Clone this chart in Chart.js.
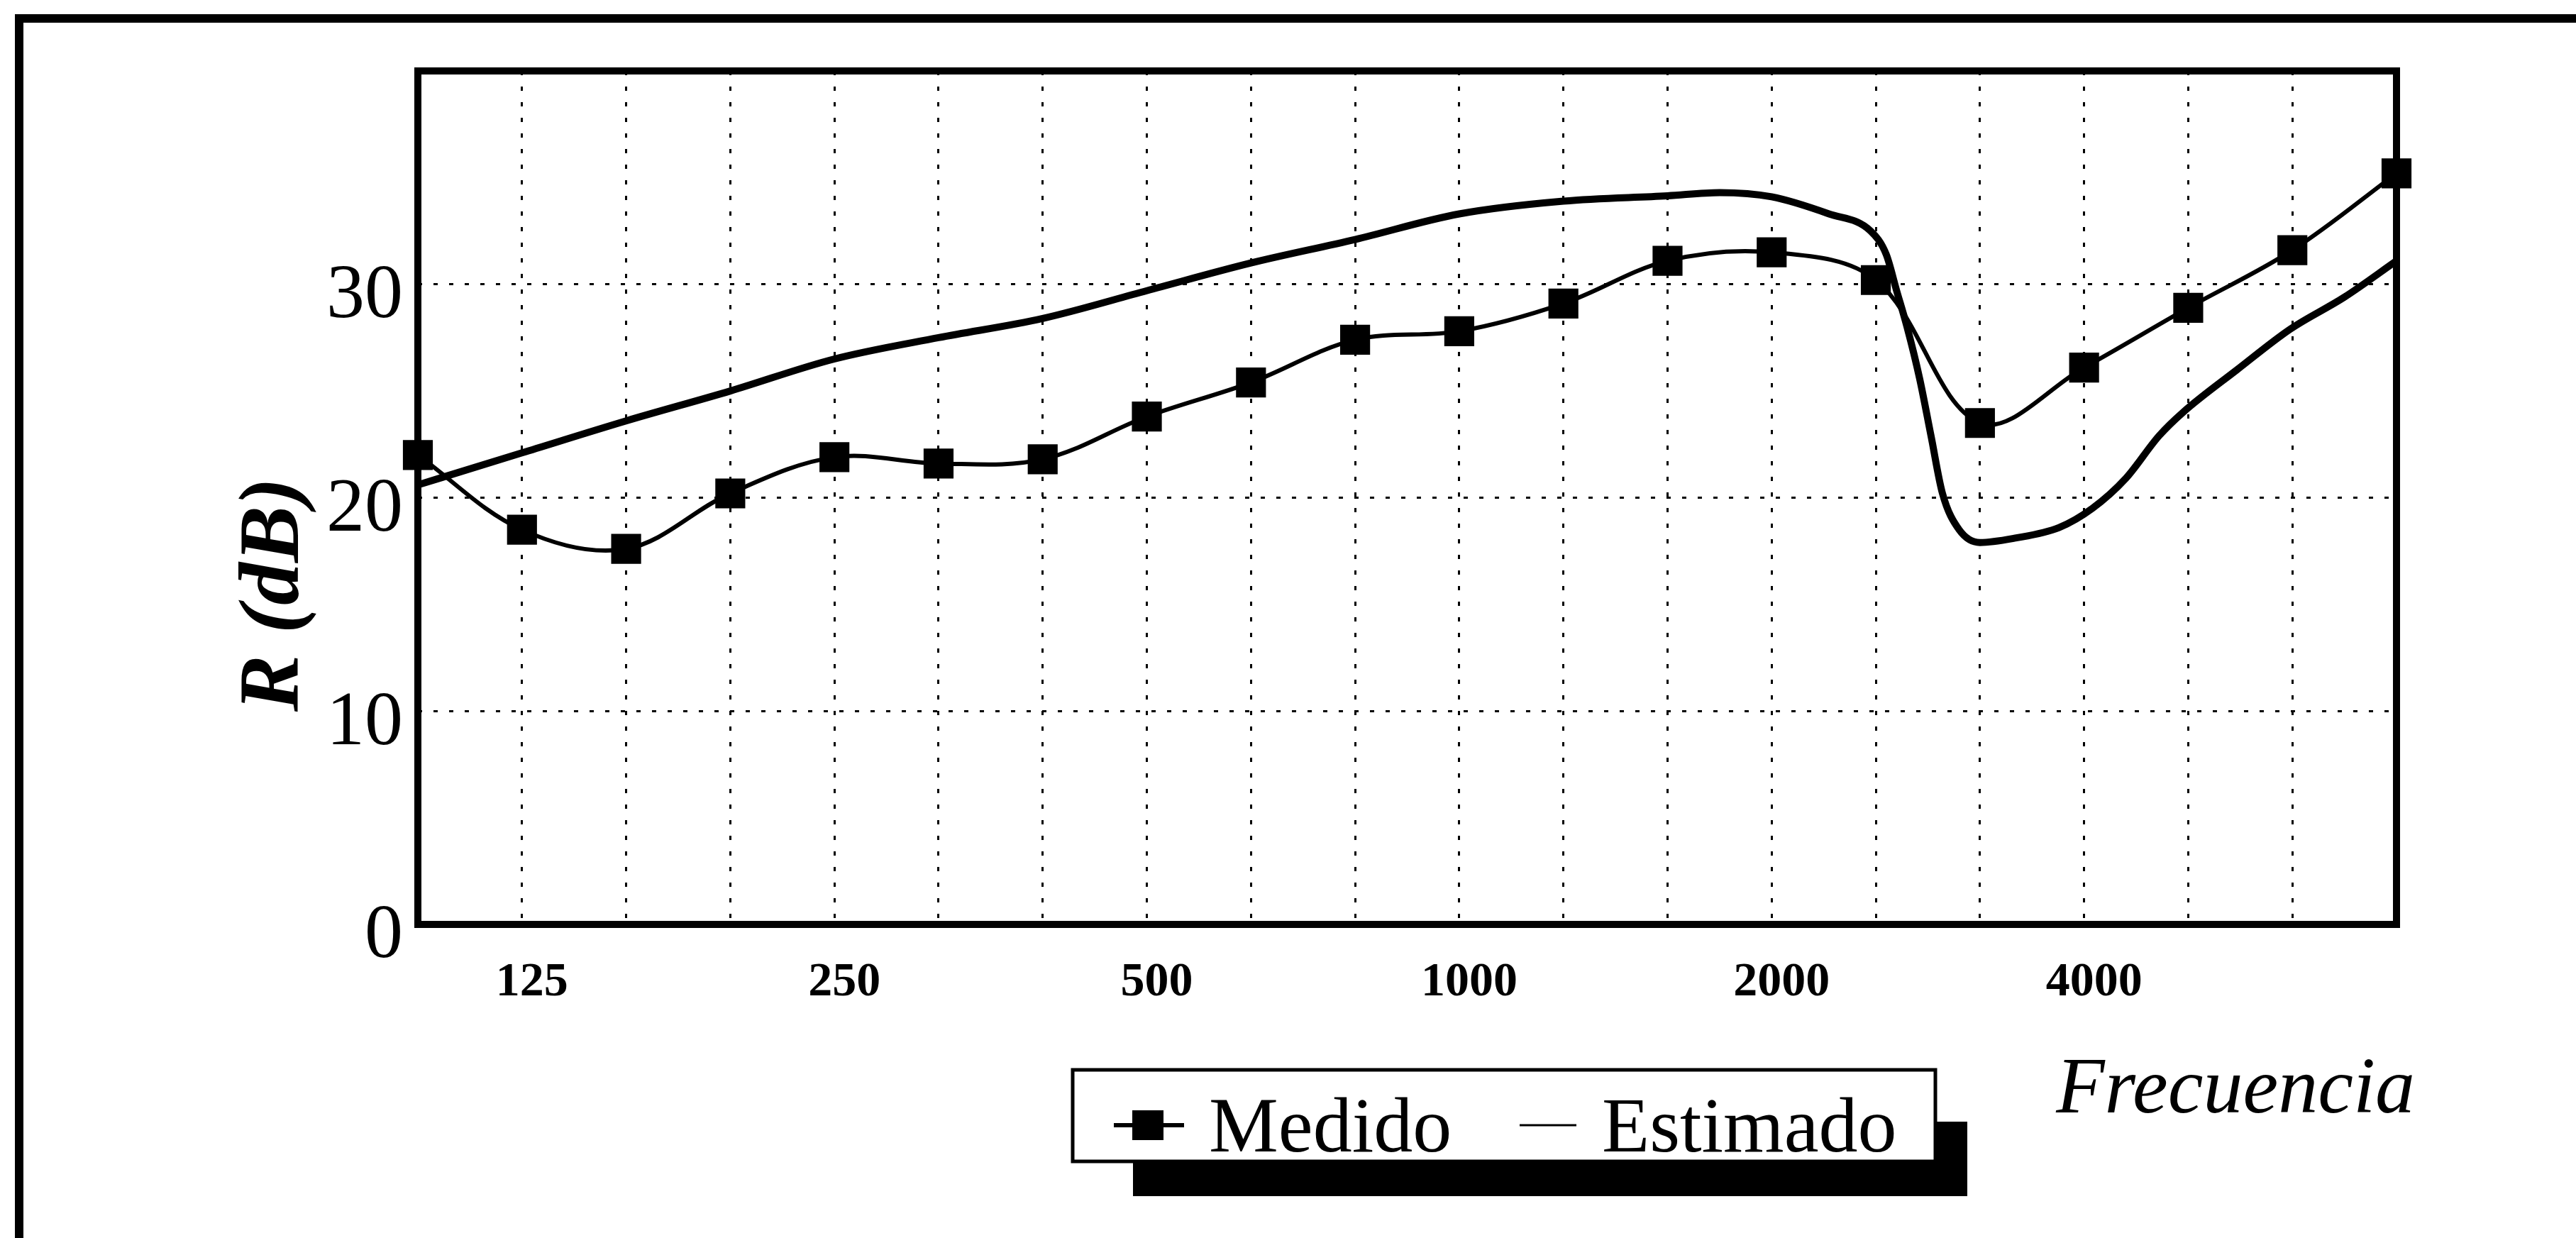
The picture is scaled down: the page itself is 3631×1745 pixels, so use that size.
<!DOCTYPE html>
<html>
<head>
<meta charset="utf-8">
<script src="https://cdn.jsdelivr.net/npm/chart.js@4.4.1/dist/chart.umd.min.js"></script>
<style>
  html, body { margin: 0; padding: 0; background: #fff; }
</style>
</head>
<body>
<canvas id="grafico" width="3631" height="1745"></canvas>
<script>
// bandas de tercio de octava (Hz)
const bandas = ['100', '125', '160', '200', '250', '315', '400', '500', '630', '800',
  '1000', '1250', '1600', '2000', '2500', '3150', '4000', '5000', '6300', '8000'];
// etiquetas que se ven en el eje x
const etiquetasX = ['125', '250', '500', '1000', '2000', '4000'];
// ticks del eje y
const ticksY = [0, 10, 20, 30];

// R medido en cada banda (dB)
const medido = [22.0, 18.5, 17.6, 20.2, 21.9, 21.6, 21.8, 23.8, 25.4, 27.4,
  27.8, 29.1, 31.1, 31.5, 30.2, 23.5, 26.1, 28.9, 31.6, 35.2];

// curva estimada: posicion (en bandas) y R (dB)
const estimadoPos = [0, 1, 2, 3, 4, 5, 6, 7, 8, 9, 10, 11, 12, 12.5, 13, 13.55, 13.95,
  14.1, 14.2, 14.3, 14.42, 14.53, 14.64, 14.8, 15.0, 15.33, 15.76, 16.08, 16.4,
  16.72, 16.95, 17.47, 17.98, 18.5, 19];
const estimadoDb = [20.6, 22.1, 23.6, 25.0, 26.5, 27.5, 28.4, 29.7, 31.0, 32.1, 33.3,
  33.9, 34.15, 34.3, 34.1, 33.3, 32.5, 31.4, 29.7, 28.0, 25.6, 22.9, 20.2, 18.5,
  17.9, 18.1, 18.6, 19.5, 20.9, 22.9, 24.0, 26.0, 27.9, 29.4, 31.1];

const serif = '"Liberation Serif", "Times New Roman", serif';

// marco, caja del grafico, titulos y leyenda
const extras = {
  id: 'extras',
  beforeDraw(chart) {
    const c = chart.ctx;
    c.save();
    c.fillStyle = '#fff';
    c.fillRect(0, 0, chart.width, chart.height);
    // marco exterior (sigue fuera de la imagen)
    c.strokeStyle = '#000';
    c.lineWidth = 12;
    c.beginPath();
    c.moveTo(27, chart.height + 20);
    c.lineTo(27, 26);
    c.lineTo(chart.width + 20, 26);
    c.stroke();
    c.restore();
  },
  beforeDatasetsDraw(chart) {
    const { left, top, right, bottom } = chart.chartArea;
    const c = chart.ctx;
    c.save();
    c.strokeStyle = '#000';
    c.lineWidth = 10;
    c.strokeRect(left, top, right - left, bottom - top);
    c.restore();
  },
  afterDraw(chart) {
    const c = chart.ctx;
    const ds = chart.data.datasets;
    c.save();
    c.fillStyle = '#000';
    c.strokeStyle = '#000';

    // titulo eje y
    c.save();
    c.translate(420, 838);
    c.rotate(-Math.PI / 2);
    c.font = 'italic bold 120px ' + serif;
    c.textAlign = 'center';
    c.textBaseline = 'alphabetic';
    c.fillText('R (dB)', 0, 0);
    c.restore();

    // titulo eje x
    c.font = 'italic 112px ' + serif;
    c.textAlign = 'right';
    c.textBaseline = 'alphabetic';
    c.fillText('Frecuencia', 3404, 1568);

    // leyenda con sombra
    c.fillRect(1597, 1581, 2773 - 1597, 1686 - 1581);
    c.fillStyle = '#fff';
    c.fillRect(1512, 1508, 2728 - 1512, 1637 - 1508);
    c.lineWidth = 5;
    c.strokeRect(1512, 1508, 2728 - 1512, 1637 - 1508);
    c.fillStyle = '#000';

    // Medido: linea con cuadrado
    c.lineWidth = 6;
    c.beginPath();
    c.moveTo(1570, 1586);
    c.lineTo(1669, 1586);
    c.stroke();
    c.fillRect(1596, 1565, 44, 42);
    // Estimado: linea fina
    c.lineWidth = 3;
    c.beginPath();
    c.moveTo(2142, 1586);
    c.lineTo(2222, 1586);
    c.stroke();

    c.font = '110px ' + serif;
    c.textAlign = 'left';
    c.fillText(ds[0].label, 1704, 1623);
    c.fillText(ds[1].label, 2258, 1623);
    c.restore();
  }
};

const ctx = document.getElementById('grafico').getContext('2d');

new Chart(ctx, {
  type: 'line',
  data: {
    datasets: [
      {
        label: 'Medido',
        data: medido.map((v, i) => ({ x: i, y: v })),
        borderColor: '#000',
        backgroundColor: '#000',
        borderWidth: 6,
        tension: 0.35,
        pointStyle: 'rect',
        pointRadius: 27,
        pointBorderWidth: 4,
        pointBackgroundColor: '#000',
        pointBorderColor: '#000',
        clip: false
      },
      {
        label: 'Estimado',
        data: estimadoPos.map((p, i) => ({ x: p, y: estimadoDb[i] })),
        borderColor: '#000',
        backgroundColor: '#000',
        borderWidth: 10,
        cubicInterpolationMode: 'monotone',
        pointRadius: 0,
        clip: false
      }
    ]
  },
  options: {
    responsive: false,
    animation: false,
    devicePixelRatio: 1,
    layout: { padding: { top: 100, right: 253, bottom: 0, left: 0 } },
    plugins: {
      legend: { display: false },
      tooltip: { enabled: false }
    },
    scales: {
      x: {
        type: 'linear',
        min: 0,
        max: bandas.length - 1,
        afterFit: (scale) => { scale.height = 442; },
        ticks: {
          stepSize: 1,
          autoSkip: false,
          maxRotation: 0,
          padding: 42,
          labelOffset: 14,
          color: '#000',
          font: { family: serif, size: 68, weight: 'bold' },
          callback: (v) => etiquetasX.includes(bandas[v]) ? bandas[v] : ''
        },
        grid: { color: '#000', lineWidth: 3, drawTicks: false },
        border: { display: false, dash: [6, 16] }
      },
      y: {
        min: 0,
        max: 40,
        afterFit: (scale) => { scale.width = 589; },
        ticks: {
          stepSize: 10,
          padding: 21,
          labelOffset: 18,
          color: '#000',
          font: { family: serif, size: 108 },
          callback: (v) => ticksY.includes(v) ? String(v) : ''
        },
        grid: { color: '#000', lineWidth: 3, drawTicks: false },
        border: { display: false, dash: [6, 16] }
      }
    }
  },
  plugins: [extras]
});
</script>
</body>
</html>
